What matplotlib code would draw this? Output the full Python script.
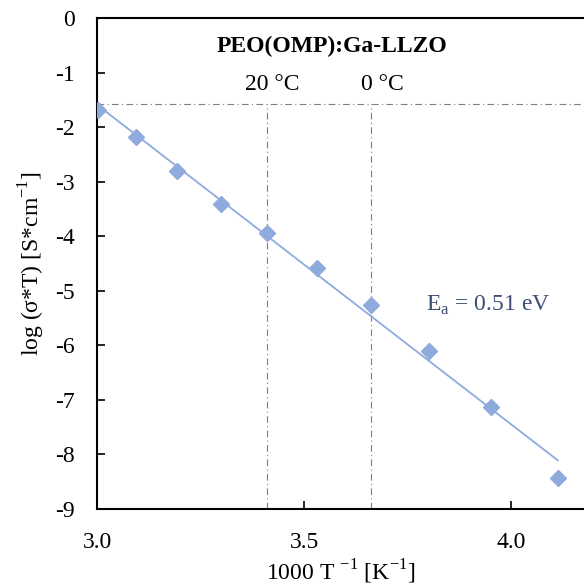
import numpy as np
import matplotlib
matplotlib.use('Agg')
import matplotlib.pyplot as plt

plt.rcParams['font.family'] = ['Liberation Serif', 'DejaVu Serif']
plt.rcParams['mathtext.fontset'] = 'custom'
plt.rcParams['mathtext.rm'] = 'Liberation Serif'
plt.rcParams['axes.unicode_minus'] = False

# data
inv_T = [3.002, 3.095, 3.193, 3.299, 3.411, 3.532, 3.661, 3.801, 3.951, 4.113]
log_sT = [-1.68, -2.17, -2.81, -3.41, -3.94, -4.59, -5.27, -6.10, -7.13, -8.43]
ref_x = [3.411, 3.661]
ref_labels = ['20 °C', '0 °C']
ref_y = -1.57

FS = 17

fig = plt.figure(figsize=(5.84, 5.87), dpi=100)
ax = fig.add_axes([0.1661, 0.1334, 0.8339, 0.8354])

blue = '#8FAADC'
# trendline (least squares, like excel)
k, b = np.polyfit(inv_T, log_sT, 1)
xx = np.array([inv_T[0], inv_T[-1]])
ax.plot(xx, k * xx + b, color=blue, lw=1.3, zorder=3)
ax.plot(inv_T, log_sT, 'D', color=blue, ms=8, mec=blue, zorder=4)

# reference lines
ax.plot([3.0, 4.3], [ref_y, ref_y], color='#7F7F7F', lw=0.8, ls=(0, (6, 3, 1, 3)), zorder=2)
for xr in ref_x:
    ax.plot([xr, xr], [-9, ref_y], color='#7F7F7F', lw=0.8, ls=(0, (6, 3, 1, 3)), zorder=2)
ax.text(3.423, -1.22, ref_labels[0], fontsize=FS, ha='center', va='center')
ax.text(3.688, -1.22, ref_labels[1], fontsize=FS, ha='center', va='center')

ax.text(3.568, -0.52, 'PEO(OMP):Ga-LLZO', fontsize=FS, fontweight='bold',
        ha='center', va='center')
ax.text(3.944, -5.26, r'E$_\mathrm{a}$ = 0.51 eV', fontsize=FS, color='#3B4E72',
        ha='center', va='center')

ax.set_xlim(3.0, 4.176)
ax.set_ylim(-9, 0)
ax.set_xticks([3.0, 3.5, 4.0])
ax.set_xticklabels(['3.0', '3.5', '4.0'])
ax.set_yticks(range(-9, 1))
ax.tick_params(direction='in', length=6, width=1.2, labelsize=FS)
ax.tick_params(axis='y', pad=16)
ax.tick_params(axis='x', pad=17)
for s in ['left', 'bottom', 'top']:
    ax.spines[s].set_linewidth(1.5)
ax.spines['right'].set_visible(False)

ax.set_xlabel(r'1000 T $^{\mathrm{-1}}$ [K$^{\mathrm{-1}}$]', fontsize=FS, labelpad=3)
ax.set_ylabel(r'log (σ*T) [S*cm$^{\mathrm{-1}}$]', fontsize=FS, labelpad=6)

fig.savefig('out.png', dpi=100)
